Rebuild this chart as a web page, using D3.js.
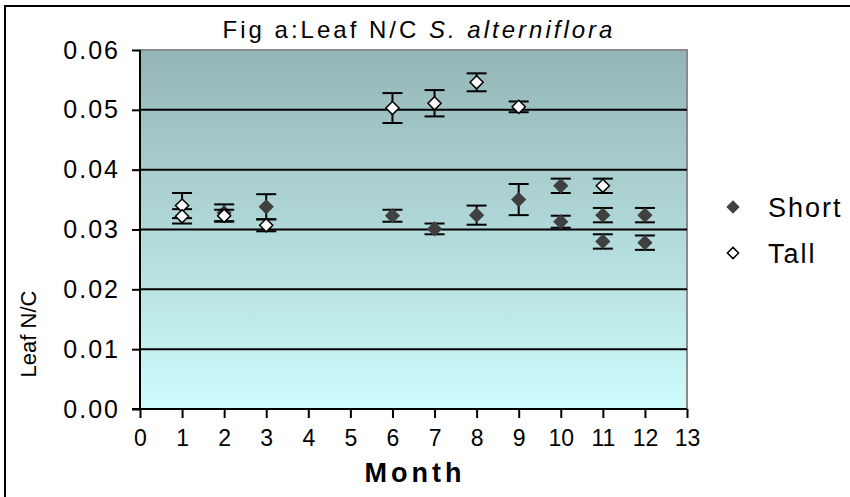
<!DOCTYPE html>
<html>
<head>
<meta charset="utf-8">
<script src="https://cdn.jsdelivr.net/npm/d3@7/dist/d3.min.js"></script>
<style>
  html, body { margin: 0; padding: 0; background: #fff; }
  svg { display: block; font-family: "Liberation Sans", Arial, sans-serif; }
</style>
</head>
<body>
<svg id="chart" width="850" height="497"></svg>
<script>
// Leaf N/C ratio of S. alterniflora by month, short and tall growth forms
const monthTicks = [0,1,2,3,4,5,6,7,8,9,10,11,12,13];
const yTicks = [0, 0.01, 0.02, 0.03, 0.04, 0.05, 0.06];

const shortMonth = [2, 3, 6, 7, 8, 9, 10, 10, 11, 11, 12, 12];
const shortNC    = [0.0328, 0.0338, 0.0323, 0.0301, 0.0324, 0.0350, 0.0373, 0.0313, 0.0324, 0.0280, 0.0324, 0.0278];
const shortErr   = [0.0014, 0.0021, 0.0010, 0.0009, 0.0016, 0.0026, 0.0012, 0.0010, 0.0012, 0.0012, 0.0012, 0.0012];

const tallMonth = [1, 1, 2, 3, 6, 7, 8, 9, 11];
const tallNC    = [0.0340, 0.0322, 0.0323, 0.0307, 0.0503, 0.0511, 0.0546, 0.0505, 0.0373];
const tallErr   = [0.0021, 0.0012, 0.0010, 0.0010, 0.0025, 0.0022, 0.0015, 0.0009, 0.0012];

const svg = d3.select("#chart");
const x = d3.scaleLinear().domain([0, 13]).range([140, 687]);
const y = d3.scaleLinear().domain([0, 0.06]).range([409, 50]);

// outer frame
svg.append("rect").attr("x", 5).attr("y", 6).attr("width", 860).attr("height", 510)
  .attr("fill", "none").attr("stroke", "#000").attr("stroke-width", 2);

// plot background gradient
const defs = svg.append("defs");
const grad = defs.append("linearGradient").attr("id", "bg").attr("x1", 0).attr("x2", 0).attr("y1", 0).attr("y2", 1);
grad.append("stop").attr("offset", "0%").attr("stop-color", "#94b5b5");
grad.append("stop").attr("offset", "100%").attr("stop-color", "#cefcfc");

svg.append("rect")
  .attr("x", x(0)).attr("y", y(0.06))
  .attr("width", x(13) - x(0)).attr("height", y(0) - y(0.06))
  .attr("fill", "url(#bg)").attr("stroke", "#8a8a8a").attr("stroke-width", 2);

// horizontal gridlines
svg.append("g").selectAll("line").data(yTicks.filter(d => d > 0 && d < 0.06)).join("line")
  .attr("x1", x(0)).attr("x2", x(13))
  .attr("y1", d => y(d)).attr("y2", d => y(d))
  .attr("stroke", "#000").attr("stroke-width", 2);

// y axis
const yAxis = d3.axisLeft(y).tickValues(yTicks).tickFormat(d3.format(".2f")).tickSize(8).tickPadding(12);
const gy = svg.append("g").attr("transform", `translate(${x(0)},0)`).call(yAxis);
gy.select(".domain").attr("stroke-width", 2).attr("d", `M0,${y(0.06)}V${y(0)}`);
gy.selectAll(".tick line").attr("stroke-width", 2);
gy.selectAll(".tick text").attr("font-size", 25).attr("letter-spacing", 2).attr("fill", "#000")
  .attr("font-family", "Liberation Sans, Arial, sans-serif");

// x axis
const xAxis = d3.axisBottom(x).tickValues(monthTicks).tickFormat(d3.format("d")).tickSize(9).tickPadding(12);
const gx = svg.append("g").attr("transform", `translate(0,${y(0)})`).call(xAxis);
gx.select(".domain").attr("stroke-width", 2).attr("d", `M${x(0) - 8},0H${x(13)}`);
gx.selectAll(".tick line").attr("stroke-width", 2);
gx.selectAll(".tick text").attr("font-size", 23).attr("fill", "#000")
  .attr("font-family", "Liberation Sans, Arial, sans-serif");

// titles
svg.append("text").attr("x", 419).attr("y", 38).attr("text-anchor", "middle")
  .attr("font-size", 24).attr("letter-spacing", 3)
  .call(t => {
    t.append("tspan").text("Fig a:Leaf N/C ");
    t.append("tspan").attr("font-style", "italic").text("S. alterniflora");
  });
svg.append("text").attr("x", 415).attr("y", 482).attr("text-anchor", "middle")
  .attr("font-size", 27).attr("font-weight", "bold").attr("letter-spacing", 4).text("Month");
svg.append("text").attr("transform", "translate(36,334) rotate(-90)").attr("text-anchor", "middle")
  .attr("font-size", 22).text("Leaf N/C");

// series drawing
const diamond = d3.symbol().type(d3.symbolDiamond2).size(110);

function drawSeries(months, vals, errs, fill, stroke) {
  const data = months.map((m, i) => ({ m, v: vals[i], e: errs[i] }));
  const g = svg.append("g");
  const eb = g.append("g").attr("stroke", "#000").attr("stroke-width", 2);
  eb.selectAll(".stem").data(data).join("line")
    .attr("x1", d => x(d.m)).attr("x2", d => x(d.m))
    .attr("y1", d => y(d.v + d.e)).attr("y2", d => y(d.v - d.e));
  eb.selectAll(".capHi").data(data).join("line")
    .attr("x1", d => x(d.m) - 10).attr("x2", d => x(d.m) + 10)
    .attr("y1", d => y(d.v + d.e)).attr("y2", d => y(d.v + d.e));
  eb.selectAll(".capLo").data(data).join("line")
    .attr("x1", d => x(d.m) - 10).attr("x2", d => x(d.m) + 10)
    .attr("y1", d => y(d.v - d.e)).attr("y2", d => y(d.v - d.e));
  g.selectAll("path").data(data).join("path")
    .attr("d", diamond)
    .attr("transform", d => `translate(${x(d.m)},${y(d.v)})`)
    .attr("fill", fill).attr("stroke", stroke).attr("stroke-width", 1.5);
}

drawSeries(shortMonth, shortNC, shortErr, "#404040", "#404040");
drawSeries(tallMonth, tallNC, tallErr, "#ffffff", "#000000");

// legend
const legend = svg.append("g");
const legItems = [
  { name: "Short", fill: "#404040", stroke: "#404040", cy: 207 },
  { name: "Tall", fill: "#ffffff", stroke: "#000000", cy: 253 }
];
legItems.forEach(it => {
  legend.append("path").attr("d", d3.symbol().type(d3.symbolDiamond2).size(80))
    .attr("transform", `translate(733,${it.cy})`)
    .attr("fill", it.fill).attr("stroke", it.stroke).attr("stroke-width", 1.5);
  legend.append("text").attr("x", 768).attr("y", it.cy + 10).attr("font-size", 27)
    .attr("letter-spacing", 2).text(it.name);
});
</script>
</body>
</html>
